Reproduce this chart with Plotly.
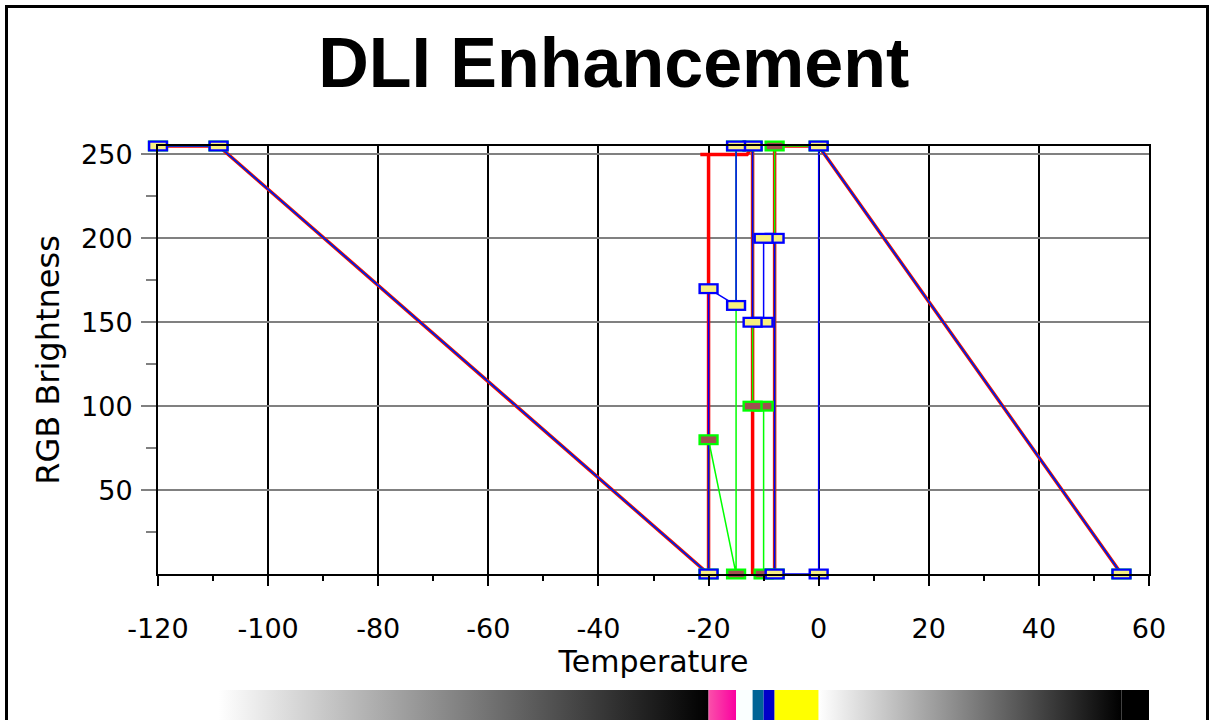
import plotly.graph_objects as go

# ---------------- data ----------------
x_ticks = [-120, -100, -80, -60, -40, -20, 0, 20, 40, 60]
x_tick_text = ["-120", "-100", "-80", "-60", "-40", "-20", "0", "20", "40", "60"]
x_minor = [-110, -90, -70, -50, -30, -10, 10, 30, 50]
y_ticks = [50, 100, 150, 200, 250]
y_tick_text = ["50", "100", "150", "200", "250"]
y_minor = [25, 75, 125, 175, 225]

# Blue channel control points (temperature, brightness)
blue_t = [-120, -109, -20, -20, -15, -15, -12, -12, -10, -10, -8, -8, 0, 0, 55]
blue_v = [255, 255, 0, 170, 160, 255, 255, 150, 150, 200, 200, 0, 0, 255, 0]

# Green channel control points
green_t = [-120, -109, -20, -20, -15, -15, -12, -12, -10, -10, -8, -8, 0, 55]
green_v = [255, 255, 0, 80, 0, 255, 255, 100, 100, 0, 0, 255, 255, 0]

# Red channel path
red_t = [-120, -109, -20, -20, -21.5, -13, -12, -12, -8, -8, 0, 55]
red_v = [255, 255, 0, 250, 250, 250, 255, 0, 0, 255, 255, 0]

# Colour strip below the chart: segment start/end temperature and colours
strip_start = [-109, -20, -15, -12, -10, -8, 0, 55]
strip_end = [-20, -15, -12, -10, -8, 0, 55, 60]
strip_col_a = ["#FFFFFF", "#FA50AA", "#FAFFFF", "#006496", "#0000C8", "#FFFF00", "#FFFFFF", "#000000"]
strip_col_b = ["#000000", "#FA00A0", "#FAFFFF", "#006496", "#0000C8", "#FFFF00", "#000000", "#000000"]

# ---------------- figure ----------------
fig = go.Figure()

fig.add_trace(go.Scatter(x=red_t, y=red_v, mode="lines",
                         line=dict(color="#FF0000", width=3.5), cliponaxis=False,
                         hoverinfo="skip", showlegend=False))
fig.add_trace(go.Scatter(x=green_t, y=green_v, mode="lines",
                         line=dict(color="#00FF00", width=1.5), cliponaxis=False,
                         hoverinfo="skip", showlegend=False))
fig.add_trace(go.Scatter(x=blue_t, y=blue_v, mode="lines",
                         line=dict(color="#0000FF", width=1.5), cliponaxis=False,
                         hoverinfo="skip", showlegend=False))


def add_markers(ts, vs, border, fill):
    # earlier points end up on top -> draw in reverse order
    for t, v in list(zip(ts, vs))[::-1]:
        fig.add_trace(go.Scatter(
            x=[t], y=[v], mode="markers", cliponaxis=False, hoverinfo="skip",
            showlegend=False,
            marker=dict(symbol="line-ew", size=14.5, color=border,
                        line=dict(color=border, width=11))))
        fig.add_trace(go.Scatter(
            x=[t], y=[v], mode="markers", cliponaxis=False, hoverinfo="skip",
            showlegend=False,
            marker=dict(symbol="line-ew", size=11, color=fill,
                        line=dict(color=fill, width=6.5))))


add_markers(green_t, green_v, "#00FF00", "#A05050")
add_markers(blue_t, blue_v, "#0000FF", "#F8F080")

# colour strip
for a, b, ca, cb in zip(strip_start, strip_end, strip_col_a, strip_col_b):
    fig.add_trace(go.Scatter(
        x=[a, b, b, a, a], y=[0, 0, 1, 1, 0], xaxis="x2", yaxis="y2",
        mode="lines", line=dict(width=0), fill="toself",
        fillgradient=dict(type="horizontal", start=a, stop=b,
                          colorscale=[[0, ca], [1, cb]]),
        hoverinfo="skip", showlegend=False))

tick_font = dict(family="DejaVu Sans", size=27, color="#000000")

fig.update_layout(
    width=1213, height=720,
    margin=dict(l=158, r=64, t=146, b=0),
    paper_bgcolor="white", plot_bgcolor="white",
    title=dict(text="<b>DLI Enhancement</b>", x=0.506, xref="container",
               y=1 - 62 / 720, yref="container", xanchor="center", yanchor="middle",
               font=dict(family="Liberation Sans", size=70, color="black")),
    xaxis=dict(range=[-120, 60], domain=[0, 1], anchor="y",
               tickmode="array", tickvals=x_ticks, ticktext=x_tick_text,
               ticks="outside", ticklen=10,
               tickwidth=2, tickcolor="black", ticklabelstandoff=20,
               showgrid=True, gridcolor="black", gridwidth=1.5,
               zeroline=False, showline=True, linecolor="black", linewidth=2,
               mirror=True, tickfont=tick_font, automargin=False,
               minor=dict(tickmode="array", tickvals=x_minor, ticks="outside",
                          ticklen=5, tickwidth=2, tickcolor="black", showgrid=False),
               title=dict(text="Temperature",
                          font=dict(family="DejaVu Sans", size=30, color="black"),
                          standoff=4)),
    yaxis=dict(range=[0, 255], domain=[146 / 574, 1], anchor="x",
               tickmode="array", tickvals=y_ticks, ticktext=y_tick_text,
               ticks="outside", ticklen=15,
               tickwidth=2, tickcolor="#808080", ticklabelstandoff=3,
               showgrid=True, gridcolor="#808080", gridwidth=2,
               zeroline=False, showline=True, linecolor="black", linewidth=2,
               mirror=True, tickfont=tick_font, automargin=False,
               minor=dict(tickmode="array", tickvals=y_minor, ticks="outside",
                          ticklen=10, tickwidth=2, tickcolor="#808080", showgrid=False),
               title=dict(text="RGB Brightness",
                          font=dict(family="DejaVu Sans", size=32, color="black"),
                          standoff=12)),
    xaxis2=dict(matches="x", domain=[0, 1], anchor="y2", visible=False),
    yaxis2=dict(range=[0, 1], domain=[0, 30 / 574], anchor="x2", visible=False),
    shapes=[dict(type="rect", xref="paper", yref="paper",
                 x0=(6.5 - 158) / 991, x1=(1207.5 - 158) / 991,
                 y0=-0.05, y1=(720 - 6.5) / 574,
                 line=dict(color="black", width=3), fillcolor="rgba(0,0,0,0)",
                 layer="above")],
)

fig.write_html("out.html", config={"displayModeBar": False},
               post_script="document.body.style.margin='0';document.body.style.overflow='hidden';")
